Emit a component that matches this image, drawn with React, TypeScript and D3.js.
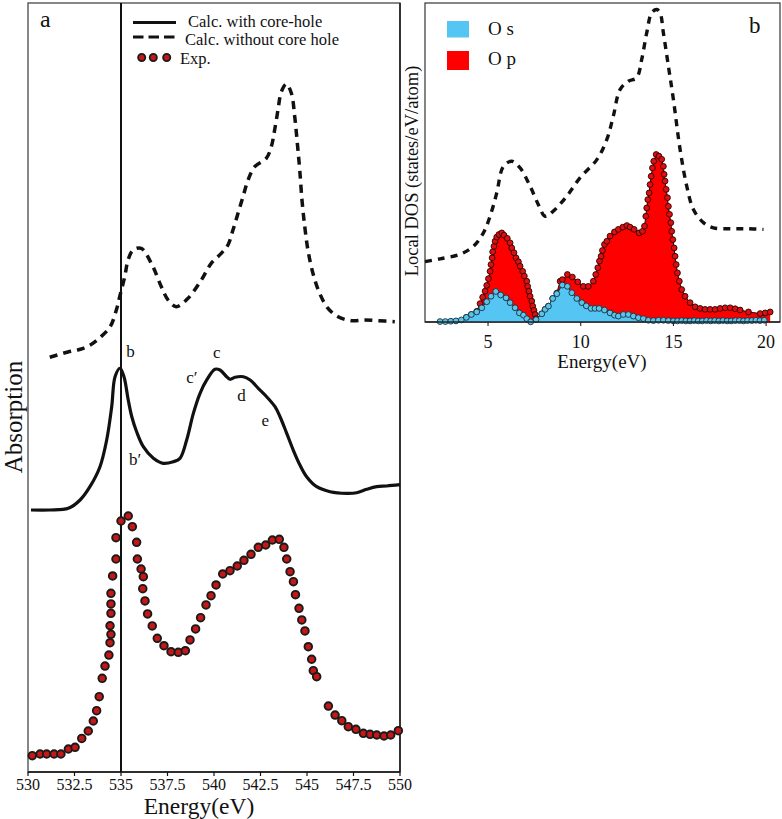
import React from 'react';
import * as d3 from 'd3';

// ---------- Panel a : O K-edge absorption ----------
const xasTicks = [530, 532.5, 535, 537.5, 540, 542.5, 545, 547.5, 550];

const expEnergy = [530.23, 530.65, 531.0, 531.4, 531.77, 532.17, 532.53, 532.89, 533.24, 533.51, 533.69, 533.83, 533.99, 534.14, 534.35, 534.41, 534.46, 534.41, 534.46, 534.46, 534.46, 534.55, 534.73, 534.73, 535.0, 535.39, 535.61, 535.84, 535.88, 536.08, 536.2, 536.17, 536.29, 536.43, 536.68, 536.95, 537.31, 537.69, 538.08, 538.46, 538.71, 539.01, 539.28, 539.57, 539.84, 540.11, 540.47, 540.86, 541.25, 541.61, 541.99, 542.38, 542.78, 543.14, 543.51, 543.76, 543.91, 544.09, 544.27, 544.38, 544.57, 544.72, 544.89, 545.07, 545.25, 545.34, 545.52, 546.15, 546.51, 546.87, 547.22, 547.63, 548.03, 548.39, 548.75, 549.14, 549.5, 549.91];
const expAbs = [2.12, 2.34, 2.34, 2.34, 2.34, 2.99, 3.21, 4.36, 5.33, 6.63, 7.97, 9.79, 12.18, 13.78, 15.21, 16.81, 17.91, 19.02, 20.64, 21.85, 23.24, 25.49, 27.7, 30.47, 32.64, 33.29, 31.9, 29.87, 27.7, 26.4, 25.4, 23.84, 22.24, 20.55, 18.99, 17.39, 16.42, 15.64, 15.57, 15.77, 17.17, 18.6, 20.07, 21.72, 22.93, 24.32, 25.75, 26.18, 26.79, 27.53, 28.31, 29.22, 29.52, 30.17, 30.26, 29.22, 27.7, 26.05, 24.75, 23.06, 21.29, 19.77, 18.34, 16.29, 14.66, 13.17, 12.39, 8.58, 7.41, 6.67, 5.89, 5.55, 5.03, 4.9, 4.81, 4.68, 4.81, 5.37];

const coreHoleEnergy = [530.16, 531.18, 532.17, 532.8, 533.33, 533.87, 534.23, 534.5, 534.68, 534.95, 535.16, 535.39, 535.58, 535.84, 536.2, 536.74, 537.27, 537.81, 538.17, 538.53, 538.89, 539.25, 539.61, 540.05, 540.32, 540.68, 540.86, 541.13, 541.58, 541.94, 542.38, 542.83, 543.28, 543.55, 543.91, 544.26, 544.62, 544.98, 545.52, 546.24, 547.13, 547.67, 548.21, 548.75, 549.28, 550.0];
const coreHoleAbs = [34.07, 34.07, 34.29, 35.37, 37.1, 39.7, 43.17, 47.5, 51.4, 52.5, 51.4, 48.37, 46.2, 44.25, 42.3, 40.79, 40.14, 40.35, 40.79, 43.17, 46.64, 49.25, 50.98, 52.37, 52.28, 51.4, 51.07, 51.33, 51.4, 50.98, 49.89, 48.8, 47.5, 46.2, 44.04, 41.87, 39.92, 38.4, 37.1, 36.45, 36.24, 36.32, 36.76, 37.1, 37.19, 37.36];

const noCoreEnergy = [531.17, 532.15, 532.81, 533.35, 533.89, 534.42, 534.75, 534.93, 535.2, 535.38, 535.65, 536.09, 536.63, 537.17, 537.53, 537.97, 538.6, 539.32, 539.85, 540.39, 540.75, 541.02, 541.29, 541.56, 541.83, 542.19, 542.81, 543.08, 543.26, 543.44, 543.62, 543.89, 544.16, 544.34, 544.48, 544.61, 544.73, 544.88, 545.05, 545.32, 545.68, 546.13, 546.67, 547.38, 548.1, 548.82, 549.72];
const noCoreAbs = [53.93, 54.62, 54.97, 55.53, 56.53, 57.91, 60.08, 61.81, 64.41, 66.58, 67.88, 68.1, 66.15, 63.11, 61.38, 60.51, 61.6, 63.98, 66.15, 67.45, 68.53, 70.48, 72.65, 74.81, 76.98, 78.71, 79.8, 81.31, 83.49, 86.09, 88.46, 89.47, 88.26, 85.21, 81.76, 78.28, 74.38, 70.91, 67.88, 64.85, 62.25, 60.3, 59.21, 58.69, 58.78, 58.69, 58.56];

const peakNames = ['b', 'b\u2032', 'c\u2032', 'c', 'd', 'e'];
const peakEnergy = [535.28, 535.43, 538.51, 539.95, 541.25, 542.56];
const peakLevel = [53.93, 39.92, 50.55, 53.8, 48.28, 44.99];
const edgeEnergy = 535;

const legendA = ['Calc. with core-hole', 'Calc. without core hole', 'Exp.'];

// ---------- Panel b : local DOS ----------
const dosTicks = [5, 10, 15, 20];

const totalEnergy = [1.6, 2.41, 3.49, 4.21, 4.75, 5.11, 5.47, 5.83, 6.28, 6.73, 7.27, 7.71, 8.08, 8.52, 9.25, 9.96, 10.87, 11.41, 11.76, 12.12, 12.57, 13.02, 13.29, 13.56, 13.83, 14.1, 14.28, 14.46, 14.73, 15.0, 15.36, 15.72, 16.08, 16.62, 17.16, 18.06, 18.96, 19.86];
const totalDos = [1.9, 1.99, 2.13, 2.38, 2.8, 3.32, 4.05, 4.88, 5.04, 4.83, 4.26, 3.69, 3.32, 3.48, 3.95, 4.52, 5.09, 5.72, 6.45, 7.28, 7.54, 7.65, 8.22, 9.05, 9.68, 9.78, 9.68, 9.05, 8.01, 6.97, 5.41, 4.26, 3.53, 3.12, 2.96, 2.93, 2.93, 2.91];

const osEnergy = [2.41, 2.7, 2.99, 3.27, 3.56, 3.83, 4.1, 4.39, 4.66, 4.93, 5.16, 5.42, 5.68, 5.97, 6.19, 6.46, 6.69, 6.91, 7.09, 7.3, 7.59, 7.9, 8.08, 8.26, 8.49, 8.71, 9.01, 9.28, 9.52, 9.79, 10.06, 10.3, 10.56, 10.77, 10.99, 11.28, 11.58, 11.82, 12.03, 12.3, 12.57, 12.84, 13.11, 13.38, 13.65, 13.92, 14.19, 14.46, 14.73, 15.0, 15.22, 15.45, 15.67, 15.9, 16.12, 16.34, 16.56, 16.79, 17.01, 17.23, 17.45, 17.67, 17.9, 18.12, 18.34, 18.56, 18.78, 19.0, 19.23, 19.45, 19.67, 19.9];
const osDos = [0.03, 0.03, 0.04, 0.05, 0.08, 0.16, 0.25, 0.33, 0.46, 0.65, 0.82, 0.97, 0.86, 0.77, 0.62, 0.46, 0.3, 0.23, 0.12, 0.02, 0.09, 0.27, 0.41, 0.51, 0.75, 0.9, 1.17, 1.13, 0.93, 0.75, 0.62, 0.52, 0.44, 0.44, 0.44, 0.39, 0.3, 0.23, 0.2, 0.25, 0.25, 0.2, 0.15, 0.12, 0.07, 0.06, 0.07, 0.07, 0.06, 0.05, 0.05, 0.06, 0.05, 0.05, 0.06, 0.05, 0.05, 0.06, 0.05, 0.06, 0.05, 0.06, 0.05, 0.05, 0.06, 0.06, 0.05, 0.06, 0.06, 0.07, 0.06, 0.07];

const opEnergy = [3.83, 4.1, 4.39, 4.57, 4.71, 4.84, 4.93, 5.02, 5.11, 5.16, 5.22, 5.25, 5.32, 5.38, 5.47, 5.59, 5.74, 5.86, 6.04, 6.19, 6.28, 6.4, 6.51, 6.64, 6.73, 6.87, 6.96, 7.09, 7.14, 7.21, 7.27, 7.36, 7.41, 7.48, 7.54, 7.59, 7.9, 8.08, 8.26, 8.49, 8.71, 8.89, 9.01, 9.28, 9.55, 9.84, 10.14, 10.41, 10.68, 10.81, 10.92, 11.01, 11.1, 11.17, 11.28, 11.41, 11.58, 11.82, 12.03, 12.27, 12.49, 12.66, 12.88, 13.15, 13.33, 13.44, 13.51, 13.56, 13.62, 13.69, 13.74, 13.8, 13.87, 13.94, 14.07, 14.22, 14.37, 14.46, 14.5, 14.55, 14.61, 14.68, 14.73, 14.79, 14.86, 14.91, 14.97, 15.04, 15.09, 15.15, 15.22, 15.32, 15.45, 15.63, 15.9, 16.17, 16.44, 16.71, 16.98, 17.25, 17.52, 17.79, 18.06, 18.33, 18.6, 19.05, 19.68, 19.95, 20.22];
const opDos = [0.16, 0.25, 0.35, 0.59, 0.79, 0.98, 1.16, 1.37, 1.6, 1.81, 2.02, 2.21, 2.38, 2.54, 2.67, 2.75, 2.8, 2.73, 2.63, 2.49, 2.33, 2.18, 2.02, 1.9, 1.76, 1.6, 1.45, 1.29, 1.13, 0.98, 0.82, 0.67, 0.51, 0.38, 0.25, 0.12, 0.27, 0.41, 0.51, 0.75, 0.92, 1.29, 1.34, 1.5, 1.42, 1.27, 1.13, 1.13, 1.29, 1.5, 1.71, 1.92, 2.07, 2.25, 2.44, 2.54, 2.7, 2.83, 2.91, 2.98, 3.03, 2.98, 2.91, 2.8, 2.85, 3.01, 3.32, 3.58, 3.84, 4.05, 4.31, 4.57, 4.83, 5.04, 5.25, 5.2, 5.1, 4.88, 4.63, 4.42, 4.16, 3.9, 3.63, 3.38, 3.12, 2.85, 2.59, 2.33, 2.07, 1.81, 1.55, 1.29, 1.03, 0.82, 0.62, 0.49, 0.44, 0.41, 0.41, 0.41, 0.44, 0.46, 0.46, 0.43, 0.39, 0.33, 0.28, 0.3, 0.33];

const legendB = ['O s', 'O p'];

const FONT = "'Liberation Serif', 'DejaVu Serif', serif";

type P = [number, number];
const zip = (a: number[], b: number[]): P[] => a.map((v, i) => [v, b[i]]);

export default function App() {
  // panel a
  const xA = d3.scaleLinear().domain([530, 550]).range([28, 400]);
  const yA = d3.scaleLinear().domain([0, 100]).range([772, 3]);
  const lineA = d3.line<P>().x(d => xA(d[0])).y(d => yA(d[1])).curve(d3.curveCatmullRom.alpha(0.5));
  const expPts = zip(expEnergy, expAbs);
  const corePts = zip(coreHoleEnergy, coreHoleAbs);
  const noCorePts = zip(noCoreEnergy, noCoreAbs);

  // panel b
  const xB = d3.scaleLinear().domain([1.6, 20.75]).range([425, 780]);
  const yB = d3.scaleLinear().domain([0, 10]).range([322.5, 2.5]);
  const totPts = zip(totalEnergy, totalDos);
  const osPts = zip(osEnergy, osDos);
  const opPts = zip(opEnergy, opDos);
  const lineB = d3.line<P>().x(d => xB(d[0])).y(d => yB(d[1]));
  const areaB = d3.area<P>().x(d => xB(d[0])).y0(yB(0)).y1(d => yB(d[1]));
  const totLine = d3.line<P>().x(d => xB(d[0])).y(d => yB(d[1])).curve(d3.curveCatmullRom.alpha(0.5));

  const fmt = (v: number) => (Number.isInteger(v) ? String(v) : v.toFixed(1));

  return (
    <svg width={782} height={819} style={{ position: 'absolute', left: 0, top: 0, background: '#fff' }} fontFamily={FONT}>
      <rect x={0} y={0} width={782} height={819} fill="#fff" />
      {/* ===== Panel a ===== */}
      <rect x={28} y={3} width={372} height={769} fill="none" stroke="#555" strokeWidth={1.4} />
      <line x1={28} x2={400} y1={772} y2={772} stroke="#111" strokeWidth={1.6} />
      <line x1={400} x2={400} y1={3} y2={772} stroke="#111" strokeWidth={1.4} />
      {xasTicks.map(t => (
        <g key={t}>
          <line x1={xA(t)} x2={xA(t)} y1={772} y2={776} stroke="#111" strokeWidth={1.2} />
          <text x={xA(t)} y={789.5} fontSize={16} textAnchor="middle" fill="#111">{fmt(t)}</text>
        </g>
      ))}
      <text x={199} y={814} fontSize={23.5} textAnchor="middle" fill="#111">Energy(eV)</text>
      <text transform="translate(22,417) rotate(-90)" fontSize={25} textAnchor="middle" fill="#111">Absorption</text>

      <line x1={xA(edgeEnergy)} x2={xA(edgeEnergy)} y1={3} y2={772} stroke="#111" strokeWidth={2} />
      <path d={lineA(noCorePts) || ''} fill="none" stroke="#111" strokeWidth={3.5} strokeDasharray="8,6" />
      <path d={lineA(corePts) || ''} fill="none" stroke="#111" strokeWidth={3.2} strokeLinejoin="round" />
      {expPts.map((d, i) => (
        <circle key={i} cx={xA(d[0])} cy={yA(d[1])} r={3.8} fill="#c41717" stroke="#1a1a1a" strokeWidth={1.9} />
      ))}
      {peakNames.map((n, i) => (
        <text key={n} x={xA(peakEnergy[i])} y={yA(peakLevel[i])} fontSize={17} fill="#111">{n}</text>
      ))}

      <text x={40} y={27} fontSize={24} fill="#111">a</text>
      <line x1={133} x2={176} y1={22.5} y2={22.5} stroke="#111" strokeWidth={3} />
      <text x={188} y={26.5} fontSize={16.5} fill="#111">{legendA[0]}</text>
      <line x1={133} x2={176} y1={37} y2={37} stroke="#111" strokeWidth={3} strokeDasharray="10.5,5" />
      <text x={185} y={45} fontSize={16.5} fill="#111">{legendA[1]}</text>
      {[141.7, 153.3, 166.7].map(cx => (
        <circle key={cx} cx={cx} cy={57.5} r={3.6} fill="#c41717" stroke="#1a1a1a" strokeWidth={1.8} />
      ))}
      <text x={180} y={63.5} fontSize={16.5} fill="#111">{legendA[2]}</text>

      {/* ===== Panel b ===== */}
      <rect x={425} y={3} width={355} height={319} fill="none" stroke="#444" strokeWidth={1.3} />
      <path d={areaB(opPts) || ''} fill="#ff0000" />
      <path d={lineB(opPts) || ''} fill="none" stroke="#2a0000" strokeWidth={1} />
      {opPts.map((d, i) => (
        <circle key={i} cx={xB(d[0])} cy={yB(d[1])} r={2.9} fill="#dd1010" stroke="#2a0000" strokeWidth={0.9} />
      ))}
      <path d={areaB(osPts) || ''} fill="#55c6f4" />
      <path d={lineB(osPts) || ''} fill="none" stroke="#14303d" strokeWidth={1} />
      {osPts.map((d, i) => (
        <circle key={i} cx={xB(d[0])} cy={yB(d[1])} r={2.9} fill="#5cc4ea" stroke="#14303d" strokeWidth={0.9} />
      ))}
      <path d={totLine(totPts) || ''} fill="none" stroke="#111" strokeWidth={3.4} strokeDasharray="7,6" />
      <line x1={425} x2={780} y1={322} y2={322} stroke="#222" strokeWidth={1.4} />
      {dosTicks.map(t => (
        <g key={t}>
          <line x1={xB(t)} x2={xB(t)} y1={322} y2={326} stroke="#222" strokeWidth={1.1} />
          <text x={xB(t)} y={348} fontSize={18} textAnchor="middle" fill="#111">{t}</text>
        </g>
      ))}
      <text x={602} y={368} fontSize={19} textAnchor="middle" fill="#111">Energy(eV)</text>
      <text transform="translate(418,171) rotate(-90)" fontSize={18.5} textAnchor="middle" fill="#111">Local DOS (states/eV/atom)</text>

      <rect x={447} y={21} width={22} height={16.5} fill="#55c6f4" />
      <rect x={447} y={51} width={22} height={19} fill="#ff0000" />
      <text x={488} y={35} fontSize={19} fill="#111">{legendB[0]}</text>
      <text x={488} y={65} fontSize={19} fill="#111">{legendB[1]}</text>
      <text x={749} y={33} fontSize={23} fill="#111">b</text>
    </svg>
  );
}
